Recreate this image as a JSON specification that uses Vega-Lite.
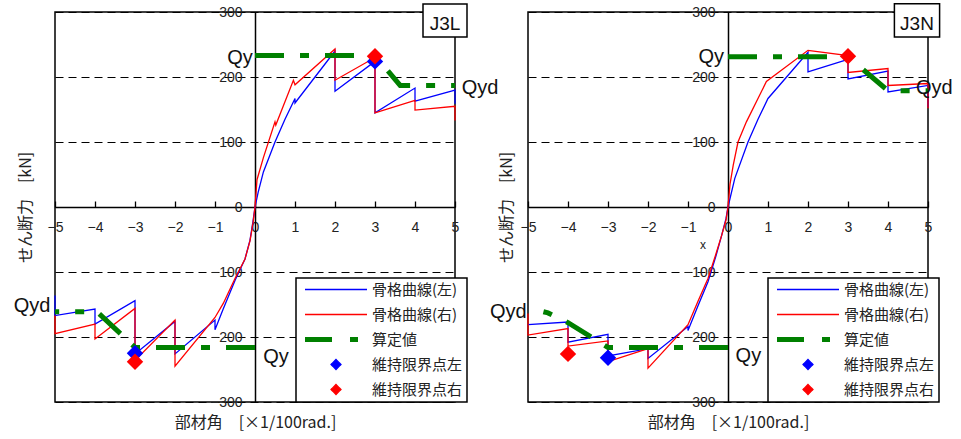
{
  "$schema": "https://vega.github.io/schema/vega-lite/v6.json",
  "background": "white",
  "autosize": {"type": "pad"},
  "padding": {"left": 12, "top": 2, "right": 5, "bottom": 5},
  "bounds": "flush",
  "spacing": 73,
  "resolve": {"scale": {"color": "independent"}, "legend": {"color": "independent"}},
  "config": {
    "view": {"stroke": "#000", "strokeWidth": 1.5},
    "font": "Liberation Sans",
    "point": {"size": 270},
    "axis": {"labelFont": "Liberation Sans", "labelFontSize": 14, "labelColor": "#222", "domainColor": "#000", "domainWidth": 1.5, "titleFont": "Noto Sans CJK JP", "titleFontSize": 16, "titleFontWeight": "normal", "titleColor": "#222", "labelFlush": false, "labelOverlap": false}
  },
  "datasets": {
    "L": [
      {"s": "骨格曲線(左)", "i": 1, "x": -5, "y": -136},
      {"s": "骨格曲線(左)", "i": 2, "x": -5, "y": -167},
      {"s": "骨格曲線(左)", "i": 3, "x": -4, "y": -157},
      {"s": "骨格曲線(左)", "i": 4, "x": -4, "y": -180},
      {"s": "骨格曲線(左)", "i": 5, "x": -3, "y": -144},
      {"s": "骨格曲線(左)", "i": 6, "x": -3, "y": -226},
      {"s": "骨格曲線(左)", "i": 7, "x": -2, "y": -176},
      {"s": "骨格曲線(左)", "i": 8, "x": -2, "y": -226},
      {"s": "骨格曲線(左)", "i": 9, "x": -1, "y": -174},
      {"s": "骨格曲線(左)", "i": 10, "x": -1, "y": -189},
      {"s": "骨格曲線(左)", "i": 11, "x": -0.79, "y": -156},
      {"s": "骨格曲線(左)", "i": 12, "x": -0.5, "y": -113},
      {"s": "骨格曲線(左)", "i": 13, "x": -0.25, "y": -80},
      {"s": "骨格曲線(左)", "i": 14, "x": -0.125, "y": -51},
      {"s": "骨格曲線(左)", "i": 15, "x": -0.05, "y": -22},
      {"s": "骨格曲線(左)", "i": 16, "x": 0, "y": 0},
      {"s": "骨格曲線(左)", "i": 17, "x": 0.08, "y": 23},
      {"s": "骨格曲線(左)", "i": 18, "x": 0.21, "y": 54},
      {"s": "骨格曲線(左)", "i": 19, "x": 0.5, "y": 100},
      {"s": "骨格曲線(左)", "i": 20, "x": 0.75, "y": 135},
      {"s": "骨格曲線(左)", "i": 21, "x": 1, "y": 167},
      {"s": "骨格曲線(左)", "i": 22, "x": 1, "y": 160},
      {"s": "骨格曲線(左)", "i": 23, "x": 2, "y": 240},
      {"s": "骨格曲線(左)", "i": 24, "x": 2, "y": 178},
      {"s": "骨格曲線(左)", "i": 25, "x": 3, "y": 224},
      {"s": "骨格曲線(左)", "i": 26, "x": 3, "y": 145},
      {"s": "骨格曲線(左)", "i": 27, "x": 4, "y": 183},
      {"s": "骨格曲線(左)", "i": 28, "x": 4, "y": 163},
      {"s": "骨格曲線(左)", "i": 29, "x": 5, "y": 180},
      {"s": "骨格曲線(左)", "i": 30, "x": 5, "y": 159},
      {"s": "骨格曲線(右)", "i": 1, "x": -5, "y": -167},
      {"s": "骨格曲線(右)", "i": 2, "x": -5, "y": -195},
      {"s": "骨格曲線(右)", "i": 3, "x": -4, "y": -180},
      {"s": "骨格曲線(右)", "i": 4, "x": -4, "y": -203},
      {"s": "骨格曲線(右)", "i": 5, "x": -3, "y": -156},
      {"s": "骨格曲線(右)", "i": 6, "x": -3, "y": -236},
      {"s": "骨格曲線(右)", "i": 7, "x": -2, "y": -174},
      {"s": "骨格曲線(右)", "i": 8, "x": -2, "y": -245},
      {"s": "骨格曲線(右)", "i": 9, "x": -1, "y": -170},
      {"s": "骨格曲線(右)", "i": 10, "x": -0.79, "y": -148},
      {"s": "骨格曲線(右)", "i": 11, "x": -0.5, "y": -110},
      {"s": "骨格曲線(右)", "i": 12, "x": -0.25, "y": -80},
      {"s": "骨格曲線(右)", "i": 13, "x": -0.125, "y": -52},
      {"s": "骨格曲線(右)", "i": 14, "x": -0.05, "y": -25},
      {"s": "骨格曲線(右)", "i": 15, "x": 0, "y": 0},
      {"s": "骨格曲線(右)", "i": 16, "x": 0.05, "y": 42},
      {"s": "骨格曲線(右)", "i": 17, "x": 0.21, "y": 76},
      {"s": "骨格曲線(右)", "i": 18, "x": 0.5, "y": 131},
      {"s": "骨格曲線(右)", "i": 19, "x": 0.52, "y": 126},
      {"s": "骨格曲線(右)", "i": 20, "x": 0.96, "y": 195},
      {"s": "骨格曲線(右)", "i": 21, "x": 1, "y": 188},
      {"s": "骨格曲線(右)", "i": 22, "x": 2, "y": 243},
      {"s": "骨格曲線(右)", "i": 23, "x": 2, "y": 195},
      {"s": "骨格曲線(右)", "i": 24, "x": 3, "y": 230},
      {"s": "骨格曲線(右)", "i": 25, "x": 3, "y": 145},
      {"s": "骨格曲線(右)", "i": 26, "x": 4, "y": 164},
      {"s": "骨格曲線(右)", "i": 27, "x": 4, "y": 149},
      {"s": "骨格曲線(右)", "i": 28, "x": 5, "y": 155},
      {"s": "骨格曲線(右)", "i": 29, "x": 5, "y": 133},
      {"s": "算定値", "g": "p", "i": 1, "x": 0, "y": 233},
      {"s": "算定値", "g": "p", "i": 2, "x": 3, "y": 233},
      {"s": "算定値", "g": "p", "i": 3, "x": 3.63, "y": 187},
      {"s": "算定値", "g": "p", "i": 4, "x": 5, "y": 187},
      {"s": "算定値", "g": "n", "i": 1, "x": 0, "y": -216},
      {"s": "算定値", "g": "n", "i": 2, "x": -3, "y": -216},
      {"s": "算定値", "g": "n", "i": 3, "x": -3.95, "y": -161},
      {"s": "算定値", "g": "n", "i": 4, "x": -5, "y": -161},
      {"s": "維持限界点左", "x": 3, "y": 224},
      {"s": "維持限界点左", "x": -3, "y": -225},
      {"s": "維持限界点右", "x": 3, "y": 232},
      {"s": "維持限界点右", "x": -3, "y": -238}
    ],
    "R": [
      {"s": "骨格曲線(左)", "i": 1, "x": -5, "y": -181},
      {"s": "骨格曲線(左)", "i": 2, "x": -4, "y": -177},
      {"s": "骨格曲線(左)", "i": 3, "x": -4, "y": -208},
      {"s": "骨格曲線(左)", "i": 4, "x": -3, "y": -196},
      {"s": "骨格曲線(左)", "i": 5, "x": -3, "y": -229},
      {"s": "骨格曲線(左)", "i": 6, "x": -2, "y": -218},
      {"s": "骨格曲線(左)", "i": 7, "x": -2, "y": -233},
      {"s": "骨格曲線(左)", "i": 8, "x": -1, "y": -184},
      {"s": "骨格曲線(左)", "i": 9, "x": -1, "y": -190},
      {"s": "骨格曲線(左)", "i": 10, "x": -0.75, "y": -152},
      {"s": "骨格曲線(左)", "i": 11, "x": -0.5, "y": -115},
      {"s": "骨格曲線(左)", "i": 12, "x": -0.3, "y": -75},
      {"s": "骨格曲線(左)", "i": 13, "x": -0.16, "y": -44},
      {"s": "骨格曲線(左)", "i": 14, "x": -0.05, "y": -18},
      {"s": "骨格曲線(左)", "i": 15, "x": 0, "y": 0},
      {"s": "骨格曲線(左)", "i": 16, "x": 0.17, "y": 44},
      {"s": "骨格曲線(左)", "i": 17, "x": 0.5, "y": 100},
      {"s": "骨格曲線(左)", "i": 18, "x": 0.75, "y": 135},
      {"s": "骨格曲線(左)", "i": 19, "x": 1, "y": 167},
      {"s": "骨格曲線(左)", "i": 20, "x": 2, "y": 238},
      {"s": "骨格曲線(左)", "i": 21, "x": 2, "y": 208},
      {"s": "骨格曲線(左)", "i": 22, "x": 3, "y": 227},
      {"s": "骨格曲線(左)", "i": 23, "x": 3, "y": 197},
      {"s": "骨格曲線(左)", "i": 24, "x": 4, "y": 209},
      {"s": "骨格曲線(左)", "i": 25, "x": 4, "y": 177},
      {"s": "骨格曲線(左)", "i": 26, "x": 5, "y": 187},
      {"s": "骨格曲線(左)", "i": 27, "x": 5, "y": 154},
      {"s": "骨格曲線(右)", "i": 1, "x": -5, "y": -164},
      {"s": "骨格曲線(右)", "i": 2, "x": -5, "y": -197},
      {"s": "骨格曲線(右)", "i": 3, "x": -4, "y": -187},
      {"s": "骨格曲線(右)", "i": 4, "x": -4, "y": -214},
      {"s": "骨格曲線(右)", "i": 5, "x": -3, "y": -206},
      {"s": "骨格曲線(右)", "i": 6, "x": -3, "y": -238},
      {"s": "骨格曲線(右)", "i": 7, "x": -2, "y": -218},
      {"s": "骨格曲線(右)", "i": 8, "x": -2, "y": -248},
      {"s": "骨格曲線(右)", "i": 9, "x": -1, "y": -181},
      {"s": "骨格曲線(右)", "i": 10, "x": -0.75, "y": -145},
      {"s": "骨格曲線(右)", "i": 11, "x": -0.5, "y": -110},
      {"s": "骨格曲線(右)", "i": 12, "x": -0.3, "y": -72},
      {"s": "骨格曲線(右)", "i": 13, "x": -0.16, "y": -44},
      {"s": "骨格曲線(右)", "i": 14, "x": -0.05, "y": -20},
      {"s": "骨格曲線(右)", "i": 15, "x": 0, "y": 0},
      {"s": "骨格曲線(右)", "i": 16, "x": 0.05, "y": 35},
      {"s": "骨格曲線(右)", "i": 17, "x": 0.13, "y": 64},
      {"s": "骨格曲線(右)", "i": 18, "x": 0.25, "y": 100},
      {"s": "骨格曲線(右)", "i": 19, "x": 0.46, "y": 131},
      {"s": "骨格曲線(右)", "i": 20, "x": 0.96, "y": 193},
      {"s": "骨格曲線(右)", "i": 21, "x": 2, "y": 241},
      {"s": "骨格曲線(右)", "i": 22, "x": 3, "y": 233},
      {"s": "骨格曲線(右)", "i": 23, "x": 3, "y": 207},
      {"s": "骨格曲線(右)", "i": 24, "x": 4, "y": 213},
      {"s": "骨格曲線(右)", "i": 25, "x": 4, "y": 187},
      {"s": "骨格曲線(右)", "i": 26, "x": 5, "y": 190},
      {"s": "骨格曲線(右)", "i": 27, "x": 5, "y": 152},
      {"s": "算定値", "g": "p", "i": 1, "x": 0, "y": 231},
      {"s": "算定値", "g": "p", "i": 2, "x": 3, "y": 231},
      {"s": "算定値", "g": "p", "i": 3, "x": 4, "y": 179},
      {"s": "算定値", "g": "p", "i": 4, "x": 5, "y": 179},
      {"s": "算定値", "g": "n", "i": 1, "x": 0, "y": -216},
      {"s": "算定値", "g": "n", "i": 2, "x": -3, "y": -216},
      {"s": "算定値", "g": "n", "i": 3, "x": -4, "y": -178},
      {"s": "算定値", "g": "n", "i": 4, "x": -4.5, "y": -163},
      {"s": "算定値", "g": "n", "i": 5, "x": -5, "y": -155},
      {"s": "維持限界点左", "x": -3, "y": -232},
      {"s": "維持限界点右", "x": 3, "y": 232},
      {"s": "維持限界点右", "x": -4, "y": -226}
    ],
    "Lt": [
      {"k": "q", "t": "Qy", "x": -0.375, "y": 220},
      {"k": "q", "t": "Qyd", "x": 5.625, "y": 174},
      {"k": "q", "t": "Qyd", "x": -5.575, "y": -161.5},
      {"k": "q", "t": "Qy", "x": 0.525, "y": -240},
      {"k": "n", "t": "J3L", "x": 4.75, "y": 272}
    ],
    "Rt": [
      {"k": "q", "t": "Qy", "x": -0.42, "y": 221.5},
      {"k": "q", "t": "Qyd", "x": 5.16, "y": 174},
      {"k": "q", "t": "Qyd", "x": -5.49, "y": -171},
      {"k": "q", "t": "Qy", "x": 0.51, "y": -238},
      {"k": "n", "t": "J3N", "x": 4.725, "y": 272},
      {"k": "m", "t": "x", "x": -0.625, "y": -64.6}
    ],
    "Lb": [{"x": 4.2, "x2": 5.3, "y": 261.5, "y2": 312.3}],
    "Rb": [{"x": 4.16, "x2": 5.29, "y": 261.5, "y2": 312.8}]
  },
  "hconcat": [
    {
      "width": 400,
      "height": 390,
      "encoding": {
        "x": {"field": "x", "type": "quantitative", "scale": {"domain": [-5, 5], "nice": false},
          "axis": {"orient": "bottom", "offset": -195, "values": [-5, -4, -3, -2, -1, 0, 1, 2, 3, 4, 5], "format": "d", "grid": false, "tickSize": -6, "tickColor": "#000", "tickWidth": 1.3, "labelPadding": 19, "title": "部材角　[×1/100rad.]", "titleY": 215, "titleBaseline": "middle"}},
        "y": {"field": "y", "type": "quantitative", "scale": {"domain": [-300, 300], "nice": false},
          "axis": {"orient": "left", "offset": -200, "values": [-300, -200, -100, 0, 100, 200, 300], "format": "d", "ticks": false, "labelPadding": 13, "grid": true, "gridColor": "#000", "gridDash": [8, 5], "gridWidth": 1, "title": "せん断力　[kN]", "titleX": -230, "titleY": 195, "titleAngle": -90, "titleBaseline": "middle", "titleAlign": "center"}}
      },
      "layer": [
        {
          "data": {"name": "Lb"},
          "mark": {"type": "rect", "fill": "#fff", "stroke": "#000", "strokeWidth": 1.5},
          "encoding": {"x2": {"field": "x2"}, "y2": {"field": "y2"}}
        },
        {
          "data": {"name": "L"},
          "transform": [{"filter": {"field": "s", "oneOf": ["骨格曲線(左)", "骨格曲線(右)"]}}],
          "mark": {"type": "line", "strokeWidth": 1.3},
          "encoding": {
            "order": {"field": "i", "type": "quantitative"},
            "color": {"field": "s", "type": "nominal",
              "scale": {"domain": ["骨格曲線(左)", "骨格曲線(右)", "算定値", "維持限界点左", "維持限界点右"], "range": ["#0000ff", "#ff0000", "#008000", "#0000ff", "#ff0000"]},
              "legend": {"orient": "none", "legendX": 241, "legendY": 266, "title": null, "padding": 4, "rowPadding": 4, "gridAlign": "all", "symbolType": "stroke", "symbolSize": 3844, "symbolOffset": 28.5, "labelOffset": 28.5, "labelFont": "Noto Sans CJK JP", "labelFontSize": 15, "labelColor": "#222", "labelLimit": 200, "strokeColor": "#000", "fillColor": "#fff",
                "encode": {"legend": {"update": {"strokeWidth": {"value": 1.5}}},
                  "symbols": {"update": {
                    "size": {"value": 3844},
                    "shape": {"signal": "datum.value === '維持限界点左' || datum.value === '維持限界点右' ? 'M0,-0.16L0.16,0L0,0.16L-0.16,0Z' : 'stroke'"},
                    "fill": {"signal": "datum.value === '維持限界点左' ? '#0000ff' : datum.value === '維持限界点右' ? '#ff0000' : 'transparent'"},
                    "stroke": {"signal": "datum.value === '骨格曲線(左)' ? '#0000ff' : datum.value === '骨格曲線(右)' ? '#ff0000' : datum.value === '算定値' ? '#008000' : 'transparent'"},
                    "strokeWidth": {"signal": "datum.value === '算定値' ? 5 : 1.3"},
                    "strokeDash": {"signal": "datum.value === '算定値' ? [27,18,8,18] : [1,0]"},
                    "opacity": {"value": 1}, "fillOpacity": {"value": 1}, "strokeOpacity": {"value": 1}}}}}}
          }
        },
        {
          "data": {"name": "L"},
          "transform": [{"filter": {"field": "s", "equal": "算定値"}}],
          "mark": {"type": "line", "strokeWidth": 5, "strokeDash": [29, 16, 9, 16]},
          "encoding": {
            "order": {"field": "i", "type": "quantitative"},
            "detail": {"field": "g"},
            "color": {"field": "s", "type": "nominal"}
          }
        },
        {
          "data": {"name": "L"},
          "transform": [{"filter": {"field": "s", "oneOf": ["維持限界点左", "維持限界点右"]}}],
          "mark": {"type": "point", "shape": "diamond", "filled": true, "opacity": 1},
          "encoding": {"color": {"field": "s", "type": "nominal"}}
        },
        {
          "data": {"name": "Lt"},
          "transform": [{"filter": {"field": "k", "equal": "q"}}],
          "mark": {"type": "text", "font": "Liberation Sans", "fontSize": 20, "align": "center", "baseline": "alphabetic", "color": "#111"},
          "encoding": {"text": {"field": "t"}}
        },
        {
          "data": {"name": "Lt"},
          "transform": [{"filter": {"field": "k", "equal": "n"}}],
          "mark": {"type": "text", "font": "Liberation Sans", "fontSize": 19, "align": "center", "baseline": "alphabetic", "color": "#111"},
          "encoding": {"text": {"field": "t"}}
        }
      ]
    },
    {
      "width": 400,
      "height": 390,
      "encoding": {
        "x": {"field": "x", "type": "quantitative", "scale": {"domain": [-5, 5], "nice": false},
          "axis": {"orient": "bottom", "offset": -195, "values": [-5, -4, -3, -2, -1, 0, 1, 2, 3, 4, 5], "format": "d", "grid": false, "tickSize": -6, "tickColor": "#000", "tickWidth": 1.3, "labelPadding": 19, "title": "部材角　[×1/100rad.]", "titleY": 215, "titleBaseline": "middle"}},
        "y": {"field": "y", "type": "quantitative", "scale": {"domain": [-300, 300], "nice": false},
          "axis": {"orient": "left", "offset": -200, "values": [-300, -200, -100, 0, 100, 200, 300], "format": "d", "ticks": false, "labelPadding": 13, "grid": true, "gridColor": "#000", "gridDash": [8, 5], "gridWidth": 1, "title": "せん断力　[kN]", "titleX": -221.5, "titleY": 195, "titleAngle": -90, "titleBaseline": "middle", "titleAlign": "center"}}
      },
      "layer": [
        {
          "data": {"name": "Rb"},
          "mark": {"type": "rect", "fill": "#fff", "stroke": "#000", "strokeWidth": 1.5},
          "encoding": {"x2": {"field": "x2"}, "y2": {"field": "y2"}}
        },
        {
          "data": {"name": "R"},
          "transform": [{"filter": {"field": "s", "oneOf": ["骨格曲線(左)", "骨格曲線(右)"]}}],
          "mark": {"type": "line", "strokeWidth": 1.3},
          "encoding": {
            "order": {"field": "i", "type": "quantitative"},
            "color": {"field": "s", "type": "nominal",
              "scale": {"domain": ["骨格曲線(左)", "骨格曲線(右)", "算定値", "維持限界点左", "維持限界点右"], "range": ["#0000ff", "#ff0000", "#008000", "#0000ff", "#ff0000"]},
              "legend": {"orient": "none", "legendX": 240, "legendY": 266, "title": null, "padding": 4, "rowPadding": 4, "gridAlign": "all", "symbolType": "stroke", "symbolSize": 3844, "symbolOffset": 28.5, "labelOffset": 28.5, "labelFont": "Noto Sans CJK JP", "labelFontSize": 15, "labelColor": "#222", "labelLimit": 200, "strokeColor": "#000", "fillColor": "#fff",
                "encode": {"legend": {"update": {"strokeWidth": {"value": 1.5}}},
                  "symbols": {"update": {
                    "size": {"value": 3844},
                    "shape": {"signal": "datum.value === '維持限界点左' || datum.value === '維持限界点右' ? 'M0,-0.16L0.16,0L0,0.16L-0.16,0Z' : 'stroke'"},
                    "fill": {"signal": "datum.value === '維持限界点左' ? '#0000ff' : datum.value === '維持限界点右' ? '#ff0000' : 'transparent'"},
                    "stroke": {"signal": "datum.value === '骨格曲線(左)' ? '#0000ff' : datum.value === '骨格曲線(右)' ? '#ff0000' : datum.value === '算定値' ? '#008000' : 'transparent'"},
                    "strokeWidth": {"signal": "datum.value === '算定値' ? 5 : 1.3"},
                    "strokeDash": {"signal": "datum.value === '算定値' ? [27,18,8,18] : [1,0]"},
                    "opacity": {"value": 1}, "fillOpacity": {"value": 1}, "strokeOpacity": {"value": 1}}}}}}
          }
        },
        {
          "data": {"name": "R"},
          "transform": [{"filter": {"field": "s", "equal": "算定値"}}],
          "mark": {"type": "line", "strokeWidth": 5, "strokeDash": [29, 16, 9, 16]},
          "encoding": {
            "order": {"field": "i", "type": "quantitative"},
            "detail": {"field": "g"},
            "color": {"field": "s", "type": "nominal"}
          }
        },
        {
          "data": {"name": "R"},
          "transform": [{"filter": {"field": "s", "oneOf": ["維持限界点左", "維持限界点右"]}}],
          "mark": {"type": "point", "shape": "diamond", "filled": true, "opacity": 1},
          "encoding": {"color": {"field": "s", "type": "nominal"}}
        },
        {
          "data": {"name": "Rt"},
          "transform": [{"filter": {"field": "k", "equal": "q"}}],
          "mark": {"type": "text", "font": "Liberation Sans", "fontSize": 20, "align": "center", "baseline": "alphabetic", "color": "#111"},
          "encoding": {"text": {"field": "t"}}
        },
        {
          "data": {"name": "Rt"},
          "transform": [{"filter": {"field": "k", "equal": "n"}}],
          "mark": {"type": "text", "font": "Liberation Sans", "fontSize": 19, "align": "center", "baseline": "alphabetic", "color": "#111"},
          "encoding": {"text": {"field": "t"}}
        },
        {
          "data": {"name": "Rt"},
          "transform": [{"filter": {"field": "k", "equal": "m"}}],
          "mark": {"type": "text", "font": "Liberation Sans", "fontSize": 12, "align": "center", "baseline": "alphabetic", "color": "#222"},
          "encoding": {"text": {"field": "t"}}
        }
      ]
    }
  ]
}
